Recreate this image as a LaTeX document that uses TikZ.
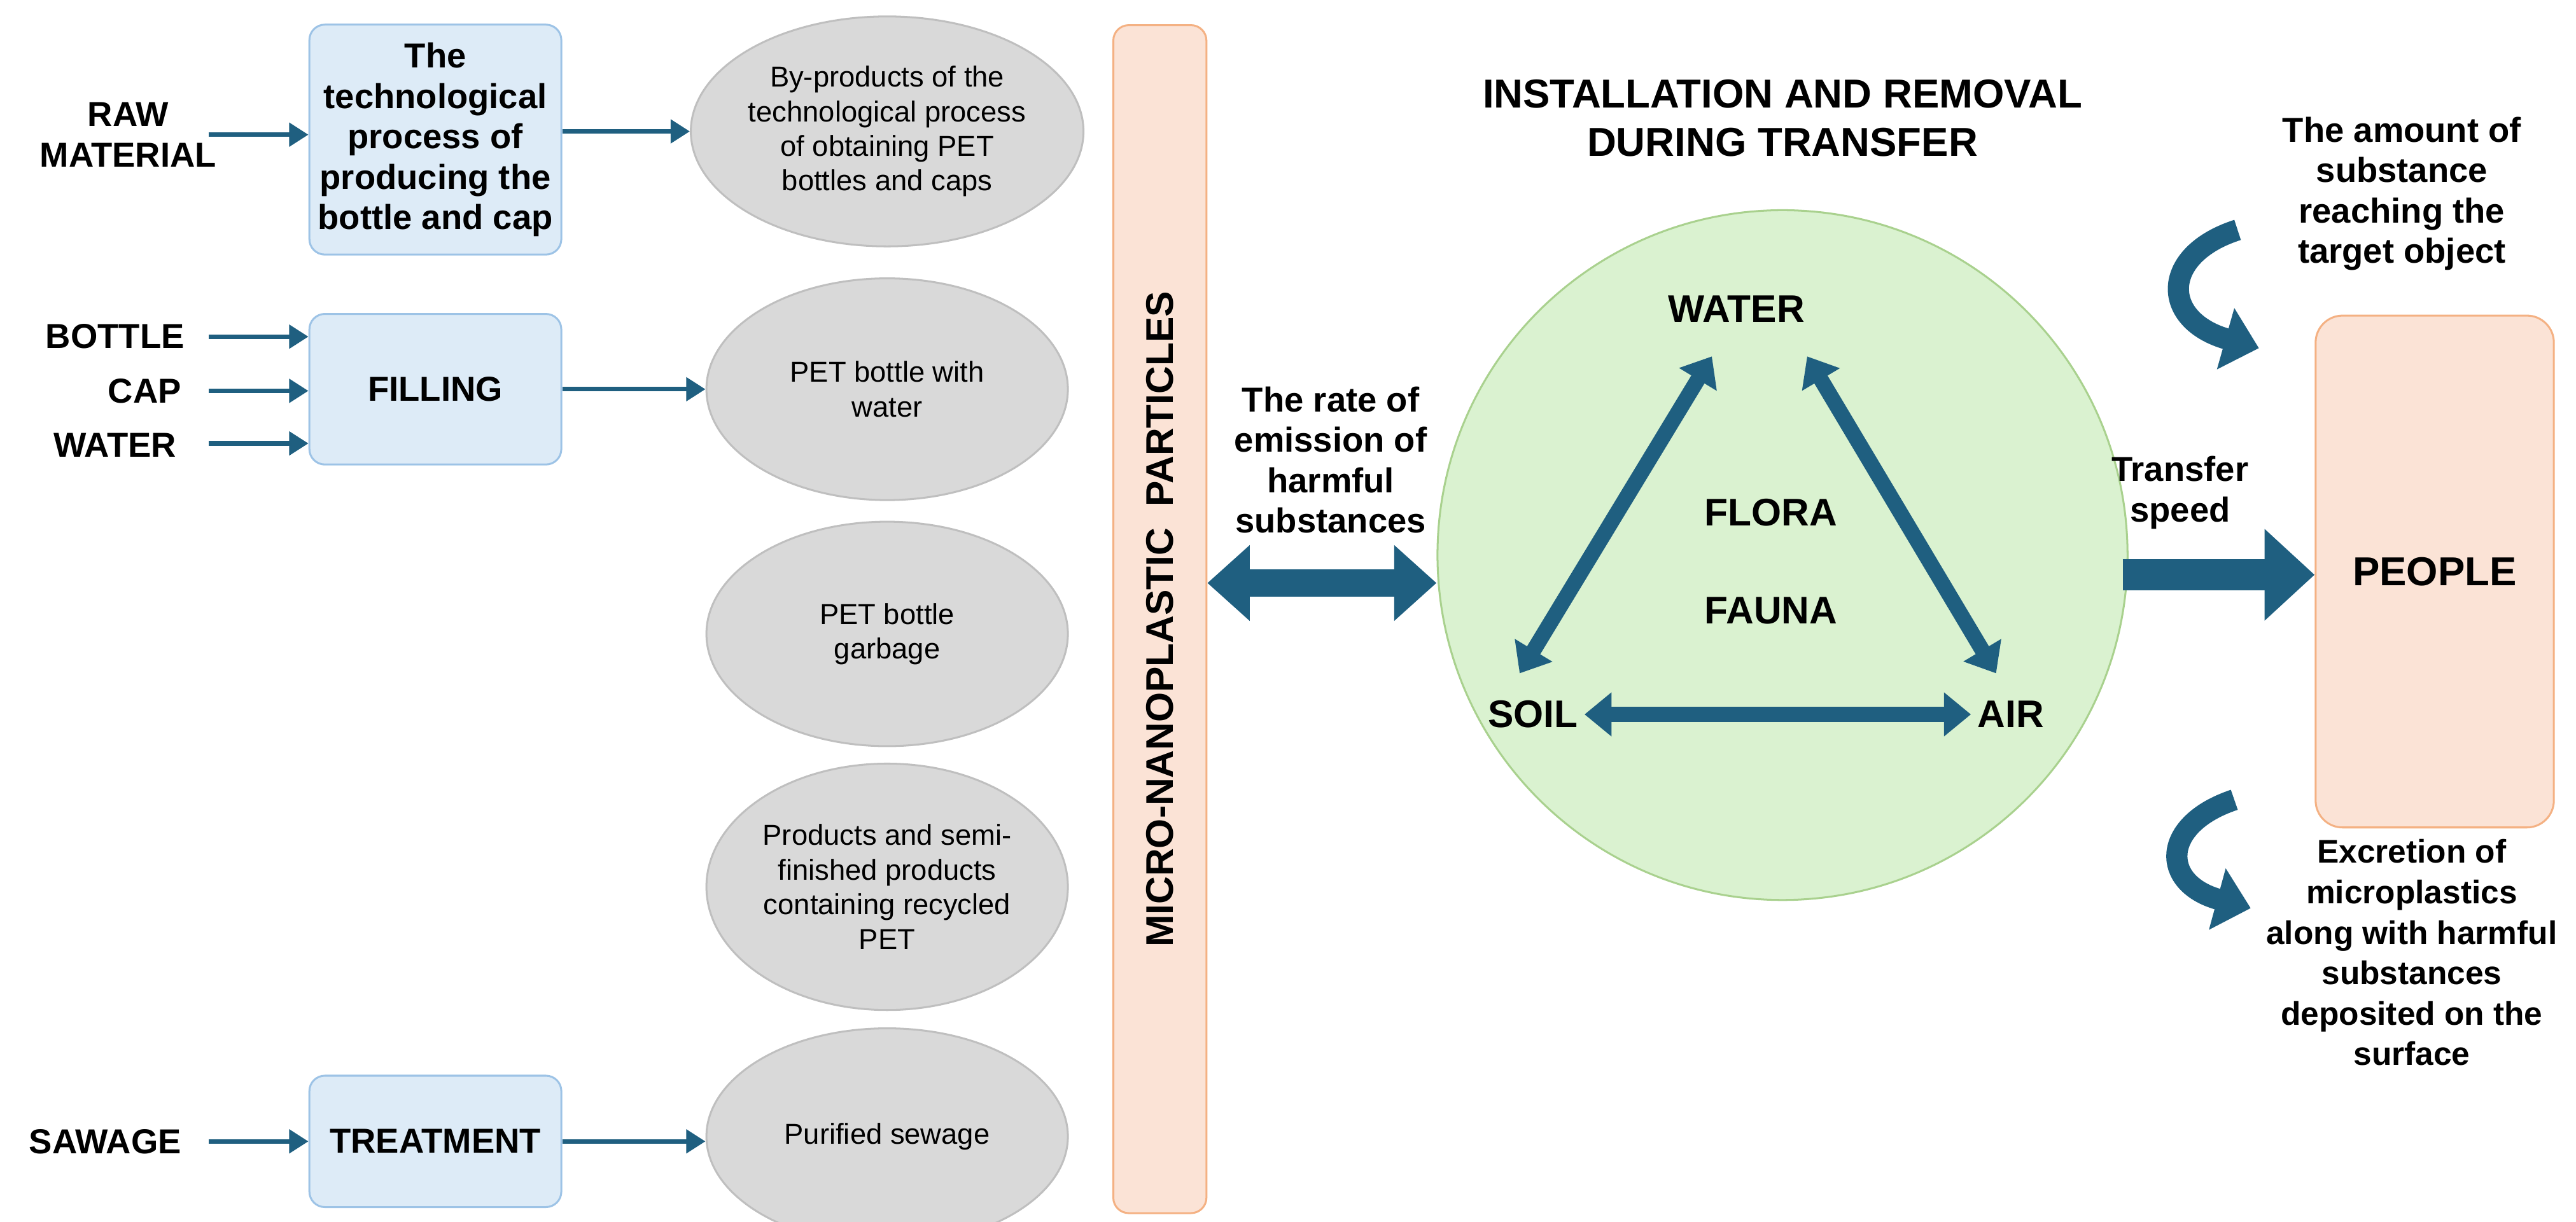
\documentclass[tikz,border=0pt]{standalone}
\usepackage{fontspec}
\setmainfont{Liberation Sans}
\usetikzlibrary{positioning, arrows.meta, shapes.geometric}
\definecolor{arr}{HTML}{1F5F80}
\definecolor{bfill}{HTML}{DDEBF7}
\definecolor{bline}{HTML}{9DC3E6}
\definecolor{gfill}{HTML}{D9D9D9}
\definecolor{gline}{HTML}{BFBFBF}
\definecolor{ofill}{HTML}{FBE3D6}
\definecolor{oline}{HTML}{F4B183}
\definecolor{cfill}{HTML}{DAF2D0}
\definecolor{cline}{HTML}{A9D18E}
\tikzset{
  proc/.style={draw=bline, fill=bfill, rounded corners=8pt, line width=1pt, minimum width=4.6cm, align=center, font=\fontsize{18}{21}\selectfont\bfseries},
  prod/.style={ellipse, draw=gline, fill=gfill, line width=1pt, minimum width=6.6cm, inner sep=0pt, align=center, font=\fontsize{15}{18}\selectfont},
  lbl/.style={align=center, font=\fontsize{18}{21}\selectfont\bfseries},
  big/.style={align=center, font=\fontsize{20}{24}\selectfont\bfseries},
  thin/.style={arr, line width=2.4pt, -{Triangle[length=10pt,width=12pt]}},
  fat/.style={arr, line width=14pt, {Triangle[length=22pt,width=38pt]}-{Triangle[length=22pt,width=38pt]}},
  fatone/.style={arr, line width=16pt, -{Triangle[length=26pt,width=46pt]}},
  mid/.style={arr, line width=8pt, {Triangle[length=14pt,width=22pt]}-{Triangle[length=14pt,width=22pt]}},
  hook/.style={arr, line width=11pt, -{Triangle[length=18pt,width=32pt]}}
}
\begin{document}
\begin{tikzpicture}[x=0.03cm,y=-0.03cm]
\useasboundingbox (0,0) rectangle (1568,744);
% left column
\node[proc, minimum height=4.2cm] (tech) at (265,85) {The\\technological\\process of\\producing the\\bottle and cap};
\node[proc, minimum height=2.75cm] (fill) at (265,237) {FILLING};
\node[proc, minimum height=2.4cm] (treat) at (265,695) {TREATMENT};
\node[lbl] (raw) at (78,82) {RAW\\MATERIAL};
\node[lbl] (bottle) at (70,205) {BOTTLE};
\node[lbl] (cap) at (88,238) {CAP};
\node[lbl] (water) at (70,271) {WATER};
\node[lbl] (sew) at (64,695) {SAWAGE};
\coordinate (rawe) at (127,82);
\coordinate (bote) at (127,205);
\coordinate (cape) at (127,238);
\coordinate (wate) at (127,270);
\coordinate (sewe) at (127,695);
\draw[thin] (rawe) -- (rawe-|tech.west);
\draw[thin] (bote) -- (bote-|fill.west);
\draw[thin] (cape) -- (cape-|fill.west);
\draw[thin] (wate) -- (wate-|fill.west);
\draw[thin] (sewe) -- (sewe-|treat.west);
% products
\node[prod, minimum height=4.2cm] (byp) at (540,80) {By-products of the\\technological process\\of obtaining PET\\bottles and caps};
\node[prod, minimum height=4.05cm] (petw) at (540,237) {PET bottle with\\water};
\node[prod, minimum height=4.1cm] (garb) at (540,386) {PET bottle\\garbage};
\node[prod, minimum height=4.5cm] (recy) at (540,540) {Products and semi-\\finished products\\containing recycled\\PET};
\node[prod, minimum height=3.95cm] (pur) at (540,692) {Purified sewage};
\draw[thin] (tech.east|-byp) -- (byp.west);
\draw[thin] (fill.east) -- (petw.west);
\draw[thin] (treat.east) -- (treat.east-|pur.west);
% bar
\node[draw=oline, fill=ofill, line width=1pt, rounded corners=8pt, minimum width=1.7cm, minimum height=21.7cm] (bar) at (706,377) {};
\node[rotate=90, font=\fontsize{20}{24}\selectfont\bfseries] (bart) at (706,377) {MICRO-NANOPLASTIC~~PARTICLES};
% circle
\node[circle, draw=cline, fill=cfill, line width=1pt, minimum size=12.6cm] (env) at (1085,338) {};
\node[big, font=\fontsize{21}{25}\selectfont\bfseries] (title) at (1085,72) {INSTALLATION AND REMOVAL\\DURING TRANSFER};
\node[big] (wat) at (1057,188) {WATER};
\node[big] (soil) at (933,435) {SOIL};
\node[big] (air) at (1224,435) {AIR};
\node[big] (flora) at (1078,312) {FLORA};
\node[big] (fauna) at (1078,372) {FAUNA};
\draw[mid] (1042,217) -- (925,410);
\draw[mid] (1100,217) -- (1215,410);
\draw[mid] (soil.east) -- (air.west);
% emission
\node[lbl] (rate) at (810,280) {The rate of\\emission of\\harmful\\substances};
\draw[fat] (bar.east|-0,355) -- (env.west|-0,355);
% people
\node[draw=oline, fill=ofill, line width=1pt, rounded corners=14pt, minimum width=4.35cm, minimum height=9.35cm, font=\fontsize{21}{25}\selectfont\bfseries] (ppl) at (1482,348) {PEOPLE};
\node[lbl] (speed) at (1327,300) {Transfer\\speed};
\draw[fatone] (1292,350) -- (ppl.west|-0,350);
\node[lbl] (amt) at (1462,118) {The amount of\\substance\\reaching the\\target object};
\node[lbl, font=\fontsize{17}{21}\selectfont\bfseries] (exc) at (1468,580) {Excretion of\\microplastics\\along with harmful\\substances\\deposited on the\\surface};
\coordinate (h1s) at (1362,140);
\coordinate (h1e) at (1375,212);
\coordinate (h2s) at (1360,487);
\coordinate (h2e) at (1370,553);
\draw[hook] (h1s) .. controls (1315,155) and (1315,195) .. (h1e);
\draw[hook] (h2s) .. controls (1315,502) and (1315,538) .. (h2e);
\end{tikzpicture}
\end{document}
